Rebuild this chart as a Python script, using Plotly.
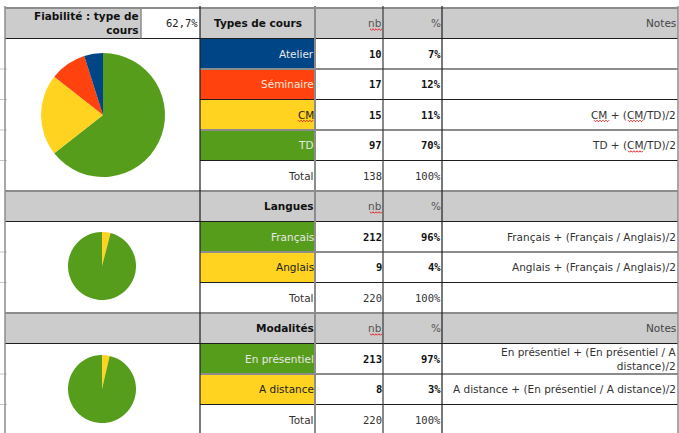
import plotly.graph_objects as go

W, H = 679, 433

# ---------------- data ----------------
fiabilite_label = "Fiabilité : type de<br>cours"
fiabilite_value = "62,7%"

types = ["Atelier", "Séminaire", "CM", "TD"]
types_nb = [10, 17, 15, 97]
types_pct = ["7%", "12%", "11%", "70%"]
types_notes = ["", "", "CM + (CM/TD)/2", "TD + (CM/TD)/2"]
types_total = 138
# shares as drawn in the reference pie (in %)
types_pie_share = [4.9, 9.5, 21.2, 64.4]

langues = ["Français", "Anglais"]
langues_nb = [212, 9]
langues_pct = ["96%", "4%"]
langues_notes = ["Français + (Français / Anglais)/2", "Anglais + (Français / Anglais)/2"]
langues_total = 220

modalites = ["En présentiel", "A distance"]
modalites_nb = [213, 8]
modalites_pct = ["97%", "3%"]
modalites_notes = ["En présentiel + (En présentiel / A<br>distance)/2",
                   "A distance + (En présentiel / A distance)/2"]
modalites_total = 220

# ---------------- styling ----------------
BLUE, RED, YELLOW, GREEN = "#004586", "#ff420e", "#ffd320", "#579d1c"
type_colors = [BLUE, RED, YELLOW, GREEN]
two_colors = [GREEN, YELLOW]
HEAD = "#cccccc"
SANS = "DejaVu Sans"
MONO = "DejaVu Sans Mono"
FS = 10.5

cols = [5, 141, 200, 315, 383, 442, 678]
row_top, row_h = 8, 30.5
nrows = 14


def ry(i):
    return row_top + row_h * i


def px(x):
    return x / W


def py(y):
    return 1 - y / H


shapes = []
annotations = []


def rect(x0, y0, x1, y1, color):
    shapes.append(dict(type="rect", xref="paper", yref="paper",
                       x0=px(x0), x1=px(x1), y0=py(y1), y1=py(y0),
                       fillcolor=color, line=dict(width=0), layer="below"))


def hline(x0, x1, y, color, w):
    shapes.append(dict(type="line", xref="paper", yref="paper",
                       x0=px(x0), x1=px(x1), y0=py(y), y1=py(y),
                       line=dict(color=color, width=w), layer="below"))


def vline(x, y0, y1, color, w):
    shapes.append(dict(type="line", xref="paper", yref="paper",
                       x0=px(x), x1=px(x), y0=py(y0), y1=py(y1),
                       line=dict(color=color, width=w), layer="below"))


def squiggle(x0, x1, y):
    pts = []
    x = x0
    k = 0
    while x <= x1:
        pts.append((px(x), py(y + (1 if k % 2 else -0.5))))
        x += 1.5
        k += 1
    path = "M " + " L ".join(f"{a:.5f},{b:.5f}" for a, b in pts)
    shapes.append(dict(type="path", xref="paper", yref="paper", path=path,
                       line=dict(color="#e02020", width=1), layer="above"))


def text(x, row, s, font=SANS, color="#222222", bold=False, anchor="right", size=FS):
    yc = ry(row) + row_h / 2
    if bold:
        s = f"<b>{s}</b>"
    annotations.append(dict(xref="paper", yref="paper", x=px(x), y=py(yc),
                            xanchor=anchor, yanchor="middle", text=s, showarrow=False,
                            align="right", borderpad=0,
                            font=dict(family=font, size=size, color=color)))


# backgrounds
for hr in (0, 6, 10):
    rect(cols[0], ry(hr), cols[-1], ry(hr + 1), HEAD)
rect(cols[1], ry(0), cols[2], ry(1), "white")

sections = [
    (1, types, type_colors, types_nb, types_pct, types_notes, types_total),
    (7, langues, two_colors, langues_nb, langues_pct, langues_notes, langues_total),
    (11, modalites, two_colors, modalites_nb, modalites_pct, modalites_notes, modalites_total),
]
for start, labels, colors, nbs, pcts, notes, total in sections:
    for k, (lab, c) in enumerate(zip(labels, colors)):
        rect(cols[2], ry(start + k), cols[3], ry(start + k + 1), c)

# horizontal grid lines
full_rows = {0, 1, 6, 7, 10, 11}
for i in range(nrows):
    y = ry(i)
    color, w = ("#8c8c8c", 2) if i % 2 == 0 else ("#1e1e1e", 1)
    if i in full_rows:
        hline(cols[0], cols[-1], y, color, w)
    else:
        hline(cols[2], cols[-1], y, color, w)
        hline(0, 7, y, "#c8c8c8", 1)

# vertical grid lines
vline(cols[0], 6, H, "#8c8c8c", 1.5)
vline(cols[1], ry(0), ry(1), "#8c8c8c", 1.5)
vline(cols[2], 6, H, "#1e1e1e", 1.2)
vline(cols[3], 6, H, "#8c8c8c", 2)
vline(cols[4], 6, H, "#3a3a3a", 1.2)
vline(cols[5], 6, H, "#1e1e1e", 1.2)
vline(cols[6], 6, H, "#8c8c8c", 1.5)

# header texts
text(cols[1] - 1, 0, fiabilite_label, bold=True, color="#111111")
text(cols[2] - 1, 0, fiabilite_value, font=MONO, color="#222222")
text((cols[2] + cols[3]) / 2, 0, "Types de cours", bold=True, color="#111111", anchor="center")
for hr, title, show_notes in ((0, None, True), (6, "Langues", False), (10, "Modalités", True)):
    if title:
        text(cols[3] - 0.5, hr, title, bold=True, color="#111111")
    text(cols[4] - 0.5, hr, "nb", color="#555555")
    text(cols[5] - 0.5, hr, "%", color="#555555")
    if show_notes:
        text(cols[6] - 1, hr, "Notes", color="#444444")
    squiggle(370, 382, ry(hr) + row_h / 2 + 6)

light = {BLUE: "#e8e8e8", RED: "#ffe6dc", GREEN: "#e8e8e8", YELLOW: "#222222"}
for start, labels, colors, nbs, pcts, notes, total in sections:
    for k in range(len(labels)):
        r = start + k
        text(cols[3] - 0.5, r, labels[k], color=light[colors[k]])
        text(cols[4] - 0.5, r, str(nbs[k]), font=MONO, bold=True, color="#111111")
        text(cols[5] - 0.5, r, pcts[k], font=MONO, bold=True, color="#111111")
        if notes[k]:
            text(cols[6] - 1.5, r, notes[k], color="#333333")
    tr = start + len(labels)
    text(cols[3] - 0.5, tr, "Total", color="#333333")
    text(cols[4] - 0.5, tr, str(total), font=MONO, color="#333333")
    text(cols[5] - 0.5, tr, "100%", font=MONO, color="#333333")

# spell-check squiggles under "CM"
cm_y = ry(3) + row_h / 2 + 6
squiggle(298, 314, cm_y)
squiggle(594, 610, cm_y)
squiggle(628, 643, cm_y)
squiggle(628, 643, ry(4) + row_h / 2 + 6)

fig = go.Figure()


def pie(labels, values, colors, cx, cy, r):
    # slices run counterclockwise from 12 o'clock in the reference:
    # draw them clockwise in reversed order
    fig.add_trace(go.Pie(labels=labels[::-1], values=values[::-1], sort=False,
                         direction="clockwise", rotation=0,
                         marker=dict(colors=colors[::-1], line=dict(width=0)),
                         textinfo="none", hoverinfo="label+percent", showlegend=False,
                         domain=dict(x=[px(cx - r), px(cx + r)], y=[py(cy + r), py(cy - r)])))


pie(types, types_pie_share, type_colors, 103, 115, 62)
pie(langues, langues_nb, two_colors, 102, 266, 34)
pie(modalites, modalites_nb, two_colors, 102, 389, 34)

fig.update_layout(width=W, height=H, margin=dict(l=0, r=0, t=0, b=0),
                  paper_bgcolor="white", plot_bgcolor="white",
                  shapes=shapes, annotations=annotations,
                  xaxis=dict(visible=False), yaxis=dict(visible=False))
fig.write_html("out.html", config={"displayModeBar": False},
               post_script="document.body.style.margin='0';document.body.style.overflow='hidden';")
